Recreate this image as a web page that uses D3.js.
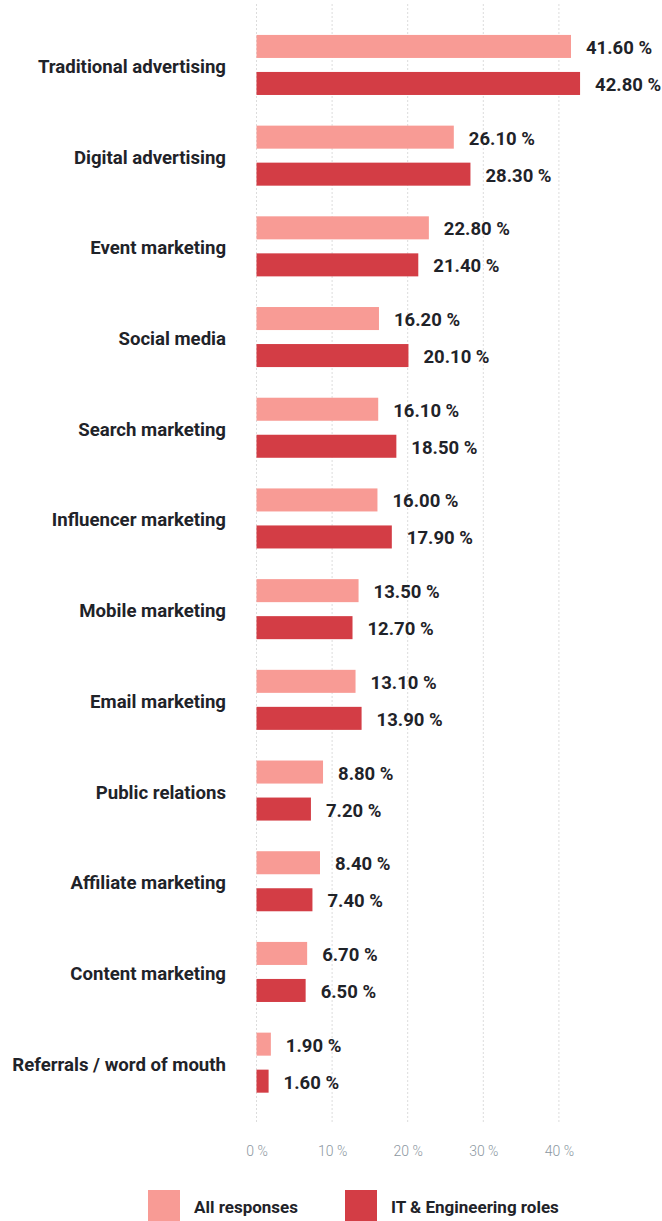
<!DOCTYPE html>
<html>
<head>
<meta charset="utf-8">
<script src="https://cdn.jsdelivr.net/npm/d3@7"></script>
<style>
  html, body { margin: 0; padding: 0; background: #fff; }
  svg { display: block; font-family: Roboto, "Noto Sans", sans-serif; }
</style>
</head>
<body>
<svg id="chart" width="662" height="1221"></svg>
<script>
// Marketing channels, two respondent groups
const categories = [
  "Traditional advertising", "Digital advertising", "Event marketing", "Social media",
  "Search marketing", "Influencer marketing", "Mobile marketing", "Email marketing",
  "Public relations", "Affiliate marketing", "Content marketing", "Referrals / word of mouth"
];
const seriesNames = ["All responses", "IT & Engineering roles"];
const allResponses = [41.6, 26.1, 22.8, 16.2, 16.1, 16.0, 13.5, 13.1, 8.8, 8.4, 6.7, 1.9];
const itEngineering = [42.8, 28.3, 21.4, 20.1, 18.5, 17.9, 12.7, 13.9, 7.2, 7.4, 6.5, 1.6];
const tickValues = [0, 10, 20, 30, 40];
const colors = ["#f89b95", "#d33d45"];

const rows = categories.map((c, i) => ({
  category: c,
  values: [
    { series: seriesNames[0], value: allResponses[i] },
    { series: seriesNames[1], value: itEngineering[i] }
  ]
}));

const svg = d3.select("#chart");
const xLeft = 256.5;
const x = d3.scaleLinear().domain([0, 45]).range([xLeft, xLeft + 45 * 7.56]);

const y = d3.scaleBand()
  .domain(categories)
  .range([19.6, 19.6 + 12 * 90.7])
  .paddingInner(0.338)
  .paddingOuter(0.169);

const ySub = d3.scaleBand()
  .domain(seriesNames)
  .range([0, y.bandwidth()])
  .paddingInner(0.378);

const color = d3.scaleOrdinal().domain(seriesNames).range(colors);

// dotted vertical gridlines
svg.append("g")
  .selectAll("line")
  .data(tickValues)
  .join("line")
  .attr("x1", d => x(d)).attr("x2", d => x(d))
  .attr("y1", 4).attr("y2", 1124)
  .attr("stroke", "#dcdcdc")
  .attr("stroke-width", 1)
  .attr("stroke-dasharray", "2,2");

// x axis tick labels
const xAxis = d3.axisBottom(x).tickValues(tickValues).tickSize(0).tickPadding(0)
  .tickFormat(d => d + " %");
const axisG = svg.append("g").attr("transform", "translate(0,1146)").call(xAxis);
axisG.select(".domain").remove();
axisG.selectAll("text")
  .attr("fill", "#8c97a1")
  .attr("font-size", 14)
  .attr("font-weight", 300)
  .attr("font-family", "Roboto, sans-serif");

// category labels
svg.append("g")
  .selectAll("text")
  .data(categories)
  .join("text")
  .attr("x", 226)
  .attr("y", d => y(d) + y.bandwidth() / 2 + 1.5)
  .attr("dy", "0.35em")
  .attr("text-anchor", "end")
  .attr("font-size", 18.6)
  .attr("font-weight", 700)
  .attr("fill", "#1f2329")
  .text(d => d);

// bars and value labels
const groups = svg.append("g")
  .selectAll("g")
  .data(rows)
  .join("g")
  .attr("transform", d => `translate(0,${y(d.category)})`);

groups.selectAll("rect")
  .data(d => d.values)
  .join("rect")
  .attr("x", x(0))
  .attr("y", d => ySub(d.series))
  .attr("width", d => x(d.value) - x(0))
  .attr("height", ySub.bandwidth())
  .attr("fill", d => color(d.series));

groups.selectAll("text")
  .data(d => d.values)
  .join("text")
  .attr("x", d => x(d.value) + 15)
  .attr("y", d => ySub(d.series) + ySub.bandwidth() / 2 + 1)
  .attr("dy", "0.35em")
  .attr("font-size", 18.5)
  .attr("font-weight", 700)
  .attr("fill", "#1f2329")
  .text(d => d.value.toFixed(2) + " %");

// legend
const legendX = [148, 345];
const legend = svg.append("g")
  .selectAll("g")
  .data(seriesNames)
  .join("g")
  .attr("transform", (d, i) => `translate(${legendX[i]},1190)`);
legend.append("rect")
  .attr("width", 32).attr("height", 32)
  .attr("fill", d => color(d));
legend.append("text")
  .attr("x", 46).attr("y", 23)
  .attr("font-size", 17)
  .attr("font-weight", 700)
  .attr("fill", "#1f2329")
  .text(d => d);
</script>
</body>
</html>
